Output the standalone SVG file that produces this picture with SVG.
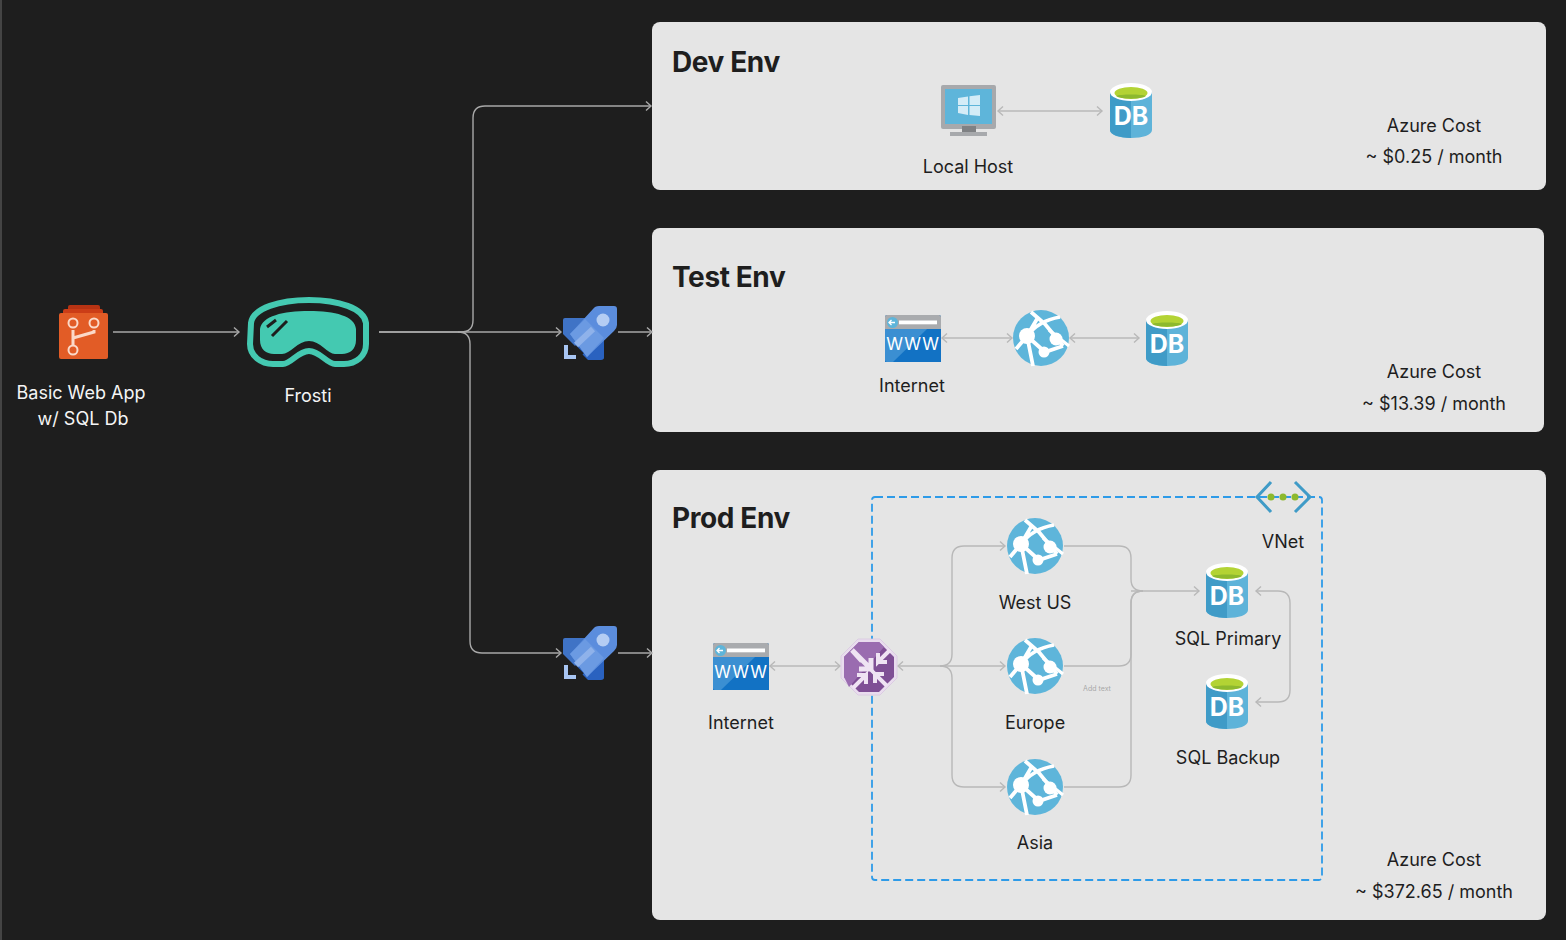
<svg xmlns="http://www.w3.org/2000/svg" width="1566" height="940" viewBox="0 0 1566 940">
<style>
.panel{fill:#e5e5e5}
.title{font:700 28px Inter,"Liberation Sans",sans-serif;fill:#1e1e1e;letter-spacing:-.4px}
.lbl{font:400 18px Inter,"Liberation Sans",sans-serif;fill:#1e1e1e;text-anchor:middle}
.wl{fill:#f5f5f5}
.dk{fill:none;stroke:#a8a8a8;stroke-width:1.4;marker-end:url(#ah)}
.lt{fill:none;stroke:#b8b8b8;stroke-width:1.4;marker-end:url(#ag)}
.both{marker-start:url(#ag)}
.plain{marker-end:none}
.db{font:700 25px Inter,"Liberation Sans",sans-serif;fill:#fff;text-anchor:middle}
.www{font:400 17px Inter,"Liberation Sans",sans-serif;fill:#fff;text-anchor:middle;letter-spacing:.8px}
</style>
<defs>
<marker id="ah" markerWidth="10" markerHeight="12" refX="7" refY="6" orient="auto-start-reverse" markerUnits="userSpaceOnUse"><path d="M2 1.5L7 6L2 10.5" fill="none" stroke="#a8a8a8" stroke-width="1.4"/></marker>
<marker id="ag" markerWidth="10" markerHeight="12" refX="7" refY="6" orient="auto-start-reverse" markerUnits="userSpaceOnUse"><path d="M2 1.5L7 6L2 10.5" fill="none" stroke="#b8b8b8" stroke-width="1.4"/></marker>
<g id="i-db">
<path d="M0 9V47C0 52 9.500 55 21 55S42 52 42 47V9Z" fill="#5eb3d9"/>
<path d="M0 9V47C0 52 9.500 54.500 21 55V9Z" fill="#3f9bc7"/>
<ellipse cx="21" cy="9" rx="21" ry="9" fill="#fff"/>
<ellipse cx="21" cy="10" rx="16.500" ry="6" fill="#b3d334"/>
<path d="M6 13C10 11 32 11 36 13C32 16.500 10 16.500 6 13Z" fill="#8db92e"/>
<text class="db" x="21" y="42">DB</text>
</g>
<g id="i-globe">
<circle cx="28" cy="28" r="28" fill="#5eb5da"/>
<path d="M18 2L32 14L50 36M3 39L14 26C20 18 30 10 47 7M14 26L20 56M14 26L32 42L50 36M14 26L24 9" fill="none" stroke="#fff" stroke-width="3.800"/>
<circle cx="14" cy="26" r="8" fill="#fff"/>
<circle cx="43" cy="29" r="6.500" fill="#fff"/>
<circle cx="31" cy="42" r="5.500" fill="#fff"/>
<path d="M36 20L56 36" stroke="#fff" stroke-width="3.200"/>
</g>
<g id="i-www">
<rect width="56" height="47" rx="2" fill="#1272c4"/>
<path d="M0 14H56V47H12L0 47Z" fill="#1272c4"/>
<path d="M0 14H42L8 47H2Q0 47 0 45Z" fill="#3b8fd2"/>
<path d="M2 0H54Q56 0 56 2V14H0V2Q0 0 2 0Z" fill="#a9abae"/>
<circle cx="7.500" cy="7.500" r="5.500" fill="#5eb5da"/>
<path d="M4 7.500H10M6.500 5L4 7.500L6.500 10" stroke="#fff" stroke-width="1.300" fill="none"/>
<rect x="14" y="5.500" width="38" height="3.800" fill="#fff"/>
<text class="www" x="28" y="35">WWW</text>
</g>
<g id="i-rocket">
<path d="M1 15Q1 13 3 13H27L42 28V52Q42 54 40 54H26L1 29Z" fill="#3f73c6"/>
<path d="M14 43L42 18V52Q42 55 39 55H26Z" fill="#2a62c0"/>
<path d="M8 29L31 4Q33 1 37 1H52Q55 1 55 4V20Q55 23 52 26L25 52Z" fill="#5b8ddd"/>
<path d="M8 29L23 14L42 33L25 52Z" fill="#6b9ae2"/>
<circle cx="41" cy="15" r="6.500" fill="#b4cdf3"/>
<path d="M14 40L31 24" stroke="#8fb2ea" stroke-width="6"/>
<path d="M12 42L20 50" stroke="#1e1e1e" stroke-width="5"/>
<path d="M2 40H6V50H14V54H2Z" fill="#a8c5f2"/>
</g>
</defs>
<rect width="1566" height="940" fill="#1e1e1e"/>
<rect width="2" height="940" fill="#444"/>
<g id="panel-dev"><rect class="panel" x="652" y="22" width="894" height="168" rx="8"/><text class="title" x="672" y="72">Dev Env</text></g>
<g id="panel-test"><rect class="panel" x="652" y="228" width="892" height="204" rx="8"/><text class="title" x="672" y="287">Test Env</text></g>
<g id="panel-prod"><rect class="panel" x="652" y="470" width="894" height="450" rx="8"/><text class="title" x="672" y="528">Prod Env</text></g>
<rect id="vnet-box" x="872" y="497" width="450" height="383" rx="3" fill="none" stroke="#2e9be8" stroke-width="1.800" stroke-dasharray="8 4"/>
<g id="connectors">
<path class="dk" d="M113 332H239"/>
<path class="dk" d="M379 332H461Q473 332 473 320V118Q473 106 485 106H651"/>
<path class="dk" d="M379 332H561"/>
<path class="dk" d="M458 332Q470 332 470 344V641Q470 653 482 653H561"/>
<path class="dk" d="M618 332H652"/>
<path class="dk" d="M618 653H652"/>
<path class="lt both" d="M998 111H1102"/>
<path class="lt both" d="M942 338H1012"/>
<path class="lt both" d="M1070 338H1139"/>
<path class="lt both" d="M770 666H840"/>
<path class="lt" style="marker-start:url(#ag)" d="M898 666H1005"/>
<path class="lt" d="M940 666Q952 666 952 654V558Q952 546 964 546H1005"/>
<path class="lt" d="M940 666Q952 666 952 678V775Q952 787 964 787H1005"/>
<path class="lt plain" d="M1064 546H1119Q1131 546 1131 558V579Q1131 591 1143 591"/>
<path class="lt plain" d="M1064 666H1119Q1131 666 1131 654V603Q1131 591 1143 591"/>
<path class="lt plain" d="M1064 787H1119Q1131 787 1131 775V603Q1131 591 1143 591"/>
<path class="lt" d="M1131 591H1199"/>
<path class="lt both" d="M1256 591H1278Q1290 591 1290 603V690Q1290 702 1278 702H1256"/>
</g>
<g id="node-repo">
<rect x="68" y="305" width="32" height="8" rx="2" fill="#b73313"/>
<rect x="63" y="309" width="40" height="8" rx="2" fill="#cb3d17"/>
<rect x="59" y="313" width="49" height="46" rx="2" fill="#e25c26"/>
<path d="M73 330V350M73 338L94 332V330" fill="none" stroke="#fbd9c8" stroke-width="3"/>
<circle cx="73" cy="323" r="4.500" fill="#e25c26" stroke="#fbd9c8" stroke-width="2"/>
<circle cx="94" cy="323" r="4.500" fill="#e25c26" stroke="#fbd9c8" stroke-width="2"/>
<circle cx="73" cy="350" r="4.500" fill="#e25c26" stroke="#fbd9c8" stroke-width="2"/>
<text class="lbl wl" x="81" y="399">Basic Web App</text><text class="lbl wl" x="83" y="425">w/ SQL Db</text>
</g>
<g id="node-frosti">
<path d="M251 323C253 308 280 300 309 300C338 300 364 308 366 323V344C366 356 356 364 344 364H335C327 364 320 351 309 351C298 351 291 364 283 364H273C261 364 250 356 250 344Z" fill="none" stroke="#44c9b1" stroke-width="6"/>
<path d="M260 329C262 316 283 311 309 311C335 311 355 316 356 329V340C356 349 350 354 342 354H335C328 354 320 341 309 341C298 341 290 354 282 354H274C266 354 260 349 260 340Z" fill="#44c9b1"/>
<path d="M267 327L276 320M272 336L287 321" stroke="#1e1e1e" stroke-width="3"/>
<text class="lbl wl" x="308" y="402">Frosti</text>
</g>
<use id="node-rocket-test" href="#i-rocket" x="562" y="305"/>
<use id="node-rocket-prod" href="#i-rocket" x="562" y="625"/>
<g id="node-localhost">
<rect x="941" y="85" width="55" height="44" rx="2" fill="#a7a9ac"/>
<rect x="945" y="89" width="47" height="35" fill="#5eb5da"/>
<path d="M958 98L968 96.500V105H958ZM969.500 96.300L980 95V105H969.500ZM958 106H968V115L958 113ZM969.500 106H980V116L969.500 115Z" fill="#d4ecf7"/>
<rect x="962" y="126" width="14" height="6" fill="#7f8184"/>
<rect x="950" y="132" width="37" height="4" fill="#a7a9ac"/>
<text class="lbl" x="968" y="173">Local Host</text>
</g>
<use id="node-db-dev" href="#i-db" x="1110" y="83"/>
<g id="cost-dev"><text class="lbl" x="1434" y="132">Azure Cost</text><text class="lbl" x="1434" y="163">~ $0.25 / month</text></g>
<g id="node-internet-test"><use href="#i-www" x="885" y="315"/><text class="lbl" x="912" y="392">Internet</text></g>
<use id="node-app-test" href="#i-globe" x="1013" y="310"/>
<use id="node-db-test" href="#i-db" x="1146" y="311"/>
<g id="cost-test"><text class="lbl" x="1434" y="378">Azure Cost</text><text class="lbl" x="1434" y="410">~ $13.39 / month</text></g>
<g id="node-internet-prod"><use href="#i-www" x="713" y="643"/><text class="lbl" x="741" y="729">Internet</text></g>
<g id="node-gateway">
<path d="M858 639H880L897 656V678L880 695H858L841 678V656Z" fill="#e9dcee" stroke="#d8c8df" stroke-width=".8"/>
<path d="M859 642H879L894 657V677L879 692H859L844 677V657Z" fill="#7f4f95"/>
<path d="M859 642H879L884 647L849 687L844 677V657Z" fill="#9a6cb0"/>
<path d="M852 650L871 669V658M852 650L862 661M871 669H859" stroke="#efe3f3" stroke-width="5" fill="none"/>
<path d="M890 650L878 662V653M878 662H887" stroke="#efe3f3" stroke-width="4" fill="none"/>
<path d="M853 688L866 675V684M866 675H857" stroke="#efe3f3" stroke-width="4" fill="none"/>
<path d="M887 686L875 674V683M875 674H884" stroke="#efe3f3" stroke-width="4" fill="none"/>
</g>
<g id="node-westus"><use href="#i-globe" x="1007" y="518"/><text class="lbl" x="1035" y="609">West US</text></g>
<g id="node-europe"><use href="#i-globe" x="1007" y="638"/><text class="lbl" x="1035" y="729">Europe</text></g>
<g id="node-asia"><use href="#i-globe" x="1007" y="759"/><text class="lbl" x="1035" y="849">Asia</text></g>
<text x="1097" y="691" font-family="Inter,'Liberation Sans',sans-serif" font-size="7" fill="#a8a8a8" text-anchor="middle">Add text</text>
<g id="node-vnet">
<path d="M1271 482L1257 497L1271 512M1295 482L1310 497L1295 512" fill="none" stroke="#3f9bc7" stroke-width="3"/>
<circle cx="1271" cy="497" r="3.500" fill="#8db92e"/><circle cx="1283" cy="497" r="3.500" fill="#8db92e"/><circle cx="1295" cy="497" r="3.500" fill="#8db92e"/>
<text class="lbl" x="1283" y="548">VNet</text>
</g>
<g id="node-sql-primary"><use href="#i-db" x="1206" y="563"/><text class="lbl" x="1228" y="645">SQL Primary</text></g>
<g id="node-sql-backup"><use href="#i-db" x="1206" y="674"/><text class="lbl" x="1228" y="764">SQL Backup</text></g>
<g id="cost-prod"><text class="lbl" x="1434" y="866">Azure Cost</text><text class="lbl" x="1434" y="898">~ $372.65 / month</text></g>
</svg>
